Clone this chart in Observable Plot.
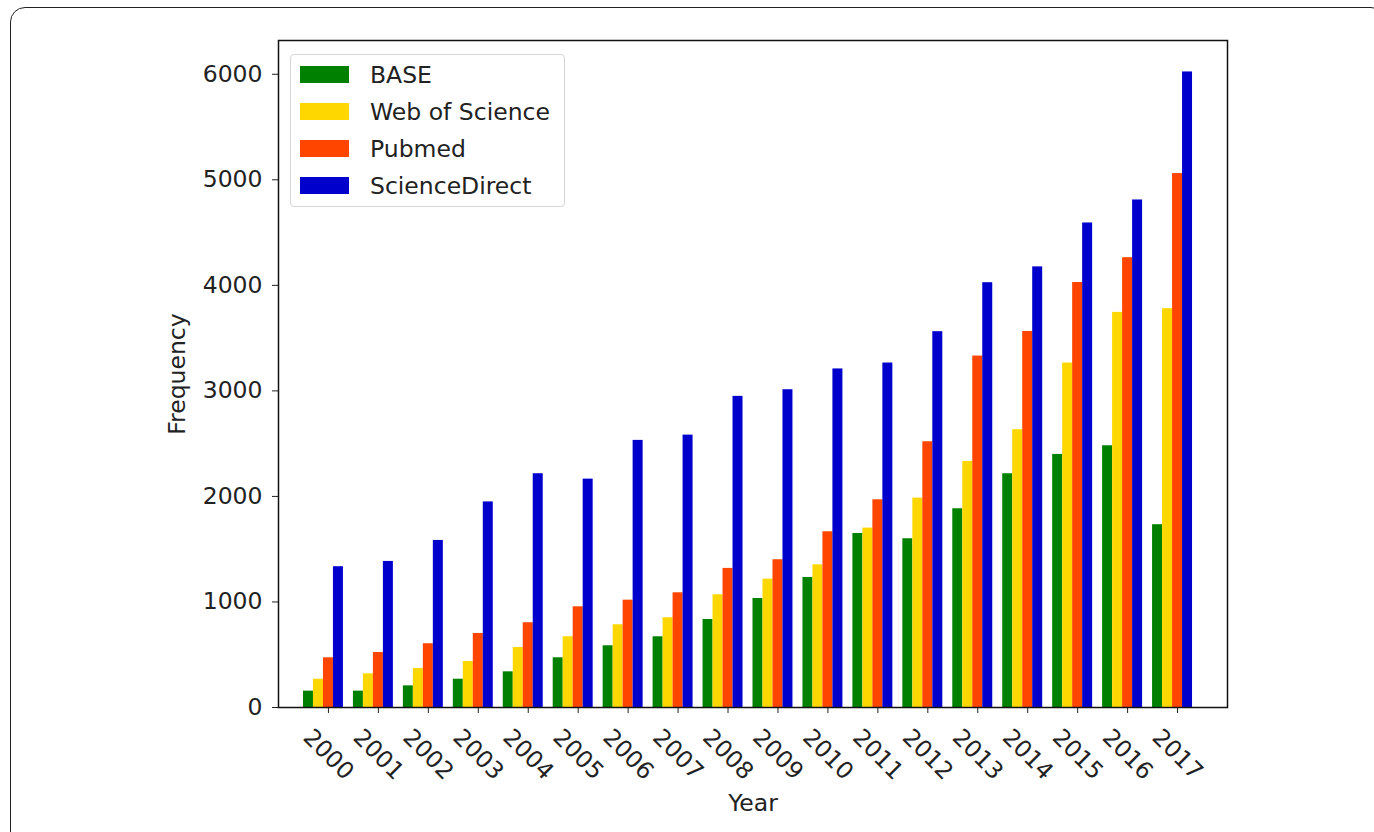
<!DOCTYPE html>
<html>
<head>
<meta charset="utf-8">
<script src="https://cdn.jsdelivr.net/npm/d3@7"></script>
<script src="https://cdn.jsdelivr.net/npm/@observablehq/plot@0.6"></script>
<style>
  html, body { margin: 0; padding: 0; background: #fff; }
  body { width: 1374px; height: 832px; position: relative; overflow: hidden; font-family: "DejaVu Sans", sans-serif; }
  #card { position: absolute; left: 10px; top: 7px; width: 1376px; height: 860px; border: 1.5px solid #222; border-radius: 15px; box-sizing: border-box; }
  #chart { position: absolute; left: 0; top: 0; }
  #legend { position: absolute; left: 290px; top: 54px; width: 275px; height: 153px; box-sizing: border-box; border: 1px solid #d6d6d6; border-radius: 4px; background: rgba(255,255,255,0.8); padding: 1px 0 0 9px; }
  .row { display: flex; align-items: center; height: 37px; font-size: 23.5px; color: #222; }
  .sw { width: 49px; height: 17px; margin-right: 21px; }
</style>
</head>
<body>
<div id="card"></div>
<div id="chart"></div>
<div id="legend"></div>
<script>
const years = [2000,2001,2002,2003,2004,2005,2006,2007,2008,2009,2010,2011,2012,2013,2014,2015,2016,2017];
const seriesNames = ["BASE", "Web of Science", "Pubmed", "ScienceDirect"];
const seriesColors = ["#008000", "#FFD700", "#FF4500", "#0000CD"];
const base          = [155,155,205,268,338,471,585,670,834,1033,1232,1649,1599,1883,2215,2398,2480,1732];
const webOfScience  = [268,319,370,436,569,670,784,850,1068,1216,1352,1700,1984,2332,2632,3264,3744,3779];
const pubmed        = [471,521,604,701,803,954,1017,1087,1318,1400,1665,1968,2518,3330,3563,4027,4262,5059];
const scienceDirect = [1334,1384,1583,1948,2215,2164,2531,2581,2948,3011,3208,3264,3561,4025,4175,4591,4809,6022];
const yTicks = [0,1000,2000,3000,4000,5000,6000];

const seriesValues = [base, webOfScience, pubmed, scienceDirect];
const rows = [];
seriesValues.forEach((vals, i) => years.forEach((y, j) => rows.push({year: y, series: seriesNames[i], i, value: vals[j]})));
const w = 0.2;
const font = "DejaVu Sans, sans-serif";

const chart = Plot.plot({
  width: 1374,
  height: 832,
  marginLeft: 278,
  marginRight: 147,
  marginTop: 40,
  marginBottom: 125,
  style: {fontFamily: font, fontSize: "23.5px", color: "#222", background: "transparent"},
  x: {domain: [1999.0, 2018.0], axis: null},
  y: {domain: [0, 6320], axis: null},
  color: {domain: seriesNames, range: seriesColors},
  marks: [
    Plot.rectY(rows, {x1: d => d.year + (d.i - 2.5) * w, x2: d => d.year + (d.i - 1.5) * w, y: "value", fill: "series", inset: 0}),
    Plot.axisY({ticks: yTicks, tickSize: 6, tickPadding: 10, tickFormat: d => String(d), label: null, fontSize: 23.5, stroke: "#222"}),
    Plot.axisX({ticks: years, tickSize: 6, tickFormat: () => "", label: null, stroke: "#222"}),
    Plot.text(years, {x: d => d, frameAnchor: "bottom", text: d => String(d), rotate: 45, textAnchor: "middle", lineAnchor: "middle", dy: 47, fontSize: 23.5, fill: "#222"}),
    Plot.text(["Year"], {frameAnchor: "bottom", dy: 96, textAnchor: "middle", lineAnchor: "middle", fontSize: 23.5, fill: "#222"}),
    Plot.text(["Frequency"], {frameAnchor: "left", dx: -101, rotate: -90, textAnchor: "middle", lineAnchor: "middle", fontSize: 23.5, fill: "#222"}),
    Plot.frame({stroke: "#111", strokeWidth: 1.5})
  ]
});
document.getElementById("chart").appendChild(chart);

const legend = document.getElementById("legend");
seriesNames.forEach((name, i) => {
  const r = document.createElement("div");
  r.className = "row";
  const sw = document.createElement("div");
  sw.className = "sw";
  sw.style.background = seriesColors[i];
  const t = document.createElement("span");
  t.textContent = name;
  r.appendChild(sw); r.appendChild(t);
  legend.appendChild(r);
});
</script>
</body>
</html>
